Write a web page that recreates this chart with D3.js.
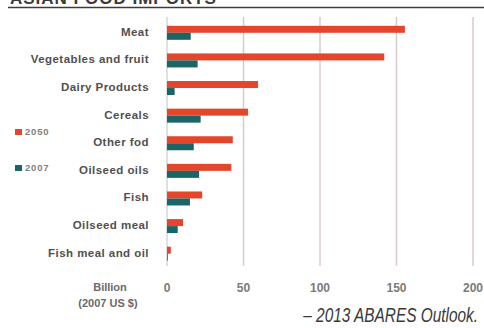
<!DOCTYPE html>
<html>
<head>
<meta charset="utf-8">
<script src="https://d3js.org/d3.v7.min.js"></script>
<style>
  body { margin: 0; background: #fff; }
  svg text { font-family: "Liberation Sans", Arial, sans-serif; }
</style>
</head>
<body>
<script>
  // data
  const categories = ["Meat", "Vegetables and fruit", "Dairy Products", "Cereals", "Other fod",
                      "Oilseed oils", "Fish", "Oilseed meal", "Fish meal and oil"];
  const values2050 = [155.5, 142, 59.5, 53, 43, 42, 23, 10.5, 2.5];
  const values2007 = [15.5, 20, 5, 22, 17.5, 21, 15, 7, 0.5];
  const seriesNames = ["2050", "2007"];
  const ticks = [0, 50, 100, 150, 200];

  const width = 484, height = 328;
  const red = "#e4462c", teal = "#1b6566";

  const svg = d3.select("body").append("svg")
    .attr("width", width)
    .attr("height", height);

  // title (cut off at top in the original) and rule
  svg.append("text")
    .attr("x", 10).attr("y", 4)
    .attr("font-size", 17).attr("font-weight", "bold")
    .attr("fill", "#3a3a3a")
    .style("letter-spacing", "1px")
    .text("ASIAN FOOD IMPORTS");
  svg.append("line")
    .attr("x1", 8).attr("x2", width).attr("y1", 7.5).attr("y2", 7.5)
    .attr("stroke", "#3c3c3c").attr("stroke-width", 1.5);

  const x = d3.scaleLinear().domain([0, 200]).range([167, 473]);
  const y = d3.scaleBand().domain(categories).range([19, 267.5]);
  const barH = 7;

  // gridlines
  svg.selectAll("line.grid")
    .data(ticks)
    .enter().append("line")
    .attr("class", "grid")
    .attr("x1", d => x(d)).attr("x2", d => x(d))
    .attr("y1", 17).attr("y2", 266)
    .attr("stroke", d => d === 0 ? "#d6d6d6" : "#dccaca")
    .attr("stroke-width", 1.5);

  const rows = categories.map((c, i) => ({ c, a: values2050[i], b: values2007[i] }));

  // 2050 bars
  svg.selectAll("rect.a")
    .data(rows)
    .enter().append("rect")
    .attr("class", "a")
    .attr("x", x(0))
    .attr("y", d => y(d.c) + y.bandwidth() / 2 - barH)
    .attr("width", d => x(d.a) - x(0))
    .attr("height", barH)
    .attr("fill", red);

  // 2007 bars
  svg.selectAll("rect.b")
    .data(rows)
    .enter().append("rect")
    .attr("class", "b")
    .attr("x", x(0))
    .attr("y", d => y(d.c) + y.bandwidth() / 2)
    .attr("width", d => x(d.b) - x(0))
    .attr("height", barH)
    .attr("fill", teal);

  // category labels
  svg.selectAll("text.cat")
    .data(categories)
    .enter().append("text")
    .attr("class", "cat")
    .attr("x", 149)
    .attr("y", d => y(d) + y.bandwidth() / 2 - 1)
    .attr("dy", "0.35em")
    .attr("text-anchor", "end")
    .attr("font-size", 11.5)
    .attr("font-weight", "bold")
    .attr("fill", "#505050")
    .style("letter-spacing", "0.45px")
    .text(d => d);

  // x axis tick labels
  svg.selectAll("text.tick")
    .data(ticks)
    .enter().append("text")
    .attr("class", "tick")
    .attr("x", d => x(d))
    .attr("y", 292)
    .attr("text-anchor", "middle")
    .attr("font-size", 12)
    .attr("font-weight", "bold")
    .attr("fill", "#7a7a7a")
    .text(d => d);

  svg.append("text")
    .attr("x", 110).attr("y", 291)
    .attr("text-anchor", "middle")
    .attr("font-size", 11).attr("font-weight", "bold").attr("fill", "#6a6a6a")
    .text("Billion");
  svg.append("text")
    .attr("x", 108).attr("y", 307)
    .attr("text-anchor", "middle")
    .attr("font-size", 11).attr("font-weight", "bold").attr("fill", "#6a6a6a")
    .text("(2007 US $)");

  // legend
  const legend = svg.selectAll("g.legend")
    .data(seriesNames)
    .enter().append("g")
    .attr("class", "legend")
    .attr("transform", (d, i) => `translate(15,${129 + i * 36})`);
  legend.append("rect")
    .attr("width", 7).attr("height", 6)
    .attr("fill", (d, i) => i === 0 ? red : teal);
  legend.append("text")
    .attr("x", 10).attr("y", 3)
    .attr("dy", "0.35em")
    .attr("font-size", 9.5)
    .attr("font-weight", "bold")
    .attr("fill", "#808080")
    .style("letter-spacing", "0.8px")
    .text(d => d);

  // source line, condensed italic (squeezed horizontally)
  svg.append("text")
    .attr("transform", "translate(478,322) scale(0.77,1)")
    .attr("text-anchor", "end")
    .attr("font-size", 20)
    .attr("font-style", "italic")
    .attr("fill", "#3a3a3a")
    .text("\u2013 2013 ABARES Outlook.");
</script>
</body>
</html>
